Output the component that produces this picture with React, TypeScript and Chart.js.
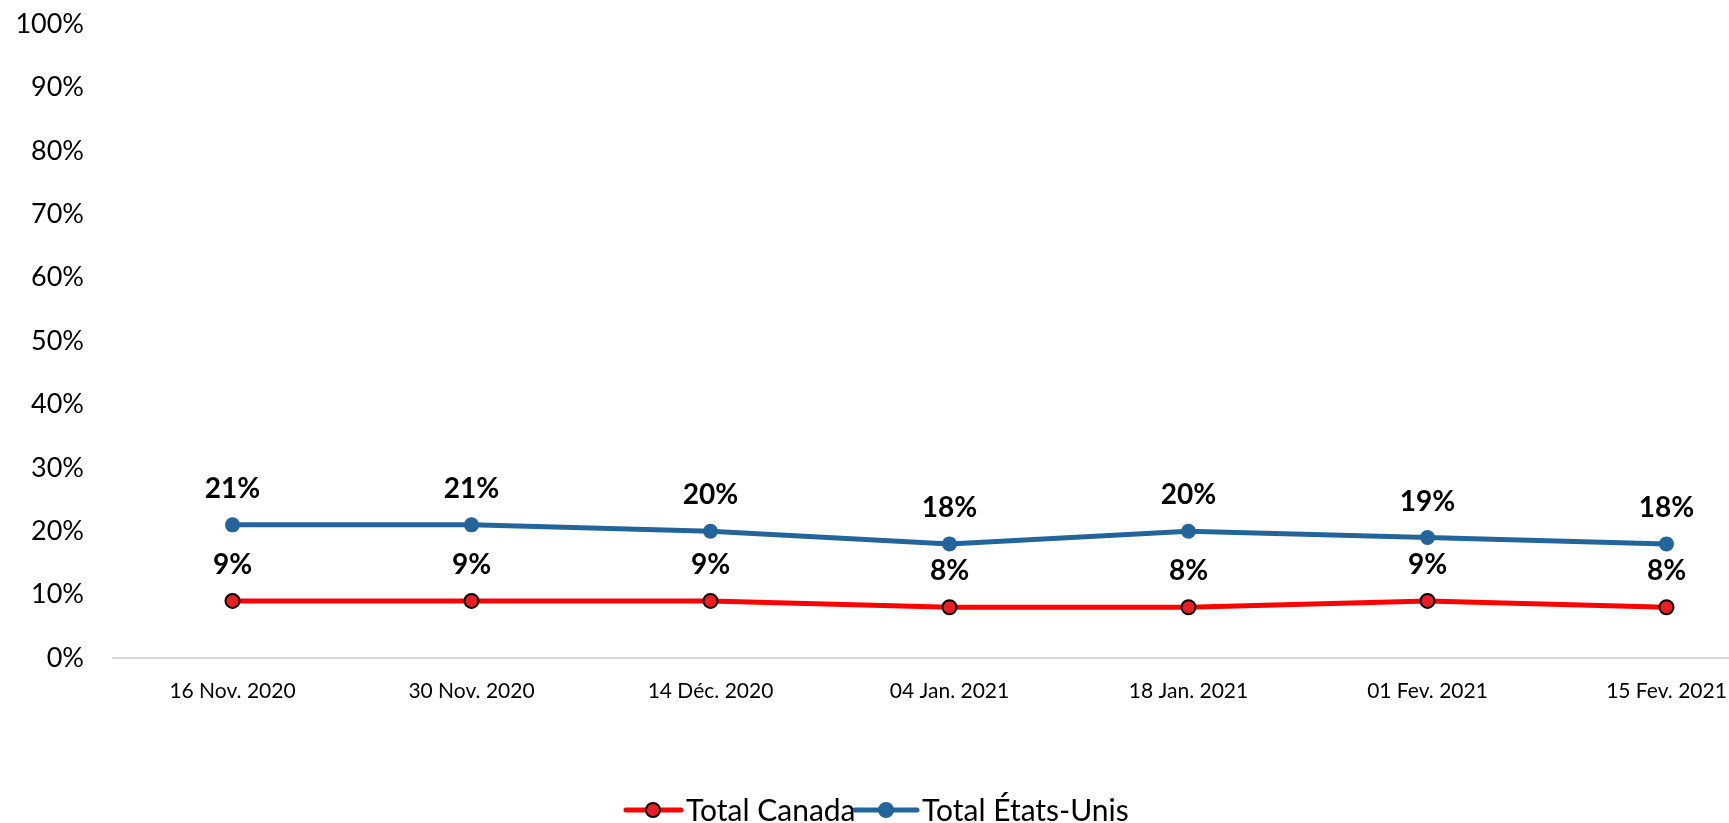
import React, { useEffect, useRef } from "react";
import { Chart, registerables } from "chart.js";

Chart.register(...registerables);

const categories = [
  "16 Nov. 2020",
  "30 Nov. 2020",
  "14 Déc. 2020",
  "04 Jan. 2021",
  "18 Jan. 2021",
  "01 Fev. 2021",
  "15 Fev. 2021",
];
const canadaValues = [9, 9, 9, 8, 8, 9, 8];
const usValues = [21, 21, 20, 18, 20, 19, 18];
const seriesNames = ["Total Canada", "Total États-Unis"];

const FONT = "Lato, 'Noto Sans', sans-serif";
const RED = "#FF0000";
const RED_POINT = "#EE1C25";
const BLUE = "#23649A";

const labelPlugin = {
  id: "valueLabels",
  afterDatasetsDraw(chart: any) {
    const ctx = chart.ctx;
    ctx.save();
    ctx.font = `bold 28px ${FONT}`;
    ctx.fillStyle = "#000";
    ctx.textAlign = "center";
    ctx.textBaseline = "middle";
    chart.data.datasets.forEach((ds: any, di: number) => {
      const meta = chart.getDatasetMeta(di);
      meta.data.forEach((pt: any, i: number) => {
        ctx.fillText(ds.data[i] + "%", pt.x, pt.y - 36);
      });
    });
    ctx.restore();
  },
};

const legendPlugin = {
  id: "customLegend",
  afterDraw(chart: any) {
    const ctx = chart.ctx;
    ctx.save();
    const y = 810;
    const items = [
      { x0: 626, x1: 681, cx: 653, tx: 686, color: RED, fill: RED_POINT, border: "#000", text: seriesNames[0] },
      { x0: 855, x1: 917, cx: 886, tx: 922, color: BLUE, fill: BLUE, border: BLUE, text: seriesNames[1] },
    ];
    ctx.font = `30px ${FONT}`;
    ctx.textBaseline = "middle";
    ctx.textAlign = "left";
    items.forEach((it) => {
      ctx.strokeStyle = it.color;
      ctx.lineWidth = 5;
      ctx.lineCap = "round";
      ctx.beginPath();
      ctx.moveTo(it.x0, y);
      ctx.lineTo(it.x1, y);
      ctx.stroke();
      ctx.beginPath();
      ctx.arc(it.cx, y, 7, 0, Math.PI * 2);
      ctx.fillStyle = it.fill;
      ctx.fill();
      ctx.lineWidth = 2;
      ctx.strokeStyle = it.border;
      ctx.stroke();
      ctx.fillStyle = "#000";
      ctx.fillText(it.text, it.tx, y + 1);
    });
    ctx.restore();
  },
};

export default function App() {
  const ref = useRef<HTMLCanvasElement | null>(null);
  useEffect(() => {
    if (!ref.current) return;
    const chart = new Chart(ref.current, {
      type: "line",
      data: {
        labels: categories,
        datasets: [
          {
            label: seriesNames[0],
            data: canadaValues,
            borderColor: RED,
            backgroundColor: RED_POINT,
            borderWidth: 5,
            pointRadius: 7,
            pointBorderWidth: 2,
            pointBorderColor: "#000",
            pointBackgroundColor: RED_POINT,
            tension: 0,
          },
          {
            label: seriesNames[1],
            data: usValues,
            borderColor: BLUE,
            backgroundColor: BLUE,
            borderWidth: 5,
            pointRadius: 7.5,
            pointBorderWidth: 0,
            pointBackgroundColor: BLUE,
            tension: 0,
          },
        ],
      },
      options: {
        responsive: false,
        animation: false,
        layout: { padding: { top: 24, right: 4, left: 0, bottom: 0 } },
        plugins: {
          legend: { display: false },
          tooltip: { enabled: false },
        },
        scales: {
          x: {
            offset: true,
            grid: { display: false, drawTicks: false },
            border: { display: true, color: "#D9D9D9", width: 2 },
            ticks: {
              color: "#000",
              font: { family: FONT, size: 21 },
              padding: 21,
              maxRotation: 0,
              autoSkip: false,
            },
            afterFit(scale: any) {
              scale.height = 165;
            },
          },
          y: {
            min: 0,
            max: 100,
            grid: { display: false, drawTicks: false },
            border: { display: false },
            ticks: {
              stepSize: 10,
              color: "#000",
              padding: 29,
              font: { family: FONT, size: 27 },
              callback: (v: any) => v + "%",
            },
            afterFit(scale: any) {
              scale.width = 113;
              scale.paddingTop = 0;
              scale.paddingBottom = 0;
            },
          },
        },
      },
      plugins: [labelPlugin, legendPlugin],
    });
    return () => chart.destroy();
  }, []);
  return (
    <div
      style={{
        position: "fixed",
        left: 0,
        top: 0,
        width: 1729,
        height: 823,
        overflow: "hidden",
        background: "#fff",
      }}
    >
      <canvas
        ref={ref}
        width={1795}
        height={823}
        style={{ width: 1795, height: 823, display: "block" }}
      />
    </div>
  );
}
